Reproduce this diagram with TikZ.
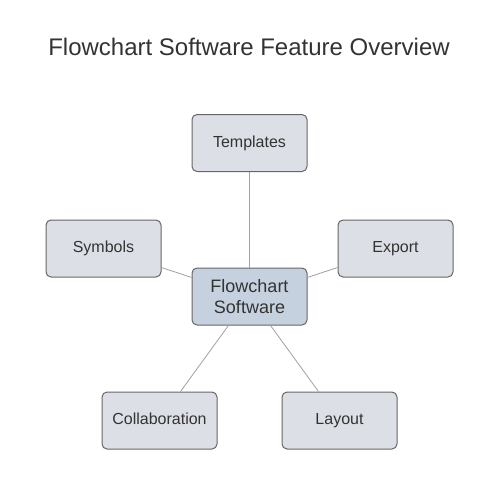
\documentclass[tikz,border=0pt]{standalone}
\usepackage{fontspec}
\setmainfont{Liberation Sans}
\usepackage{tikz}

\definecolor{boxfill}{HTML}{DCDFE6}
\definecolor{hubfill}{HTML}{C6D1E0}
\definecolor{boxline}{HTML}{666666}
\definecolor{linkline}{HTML}{A0A0A0}
\definecolor{txt}{HTML}{333333}

\tikzset{
  box/.style={draw=boxline, line width=1pt, rounded corners=5pt,
    minimum width=115pt, minimum height=57pt, inner sep=0pt, text=txt},
  feature/.style={box, fill=boxfill, text height=11.5pt, text depth=3.5pt,
    font=\fontsize{16pt}{19pt}\selectfont},
  hub/.style={box, fill=hubfill, align=center,
    font=\fontsize{18pt}{21pt}\selectfont},
  link/.style={draw=linkline, line width=0.8pt}
}

\begin{document}
\begin{tikzpicture}[x=1pt, y=-1pt]
        \useasboundingbox (0,0) rectangle (501,493);
        \node[text=txt, font=\fontsize{24pt}{28pt}\selectfont] (title) at (249,47) {Flowchart Software Feature Overview};

        \node [hub] (hub) at (249.5,296.5) {Flowchart\\Software};
        \node [feature] (templates) at (249.5,143) {Templates};
        \node [feature] (symbols) at (103.5,248.5) {Symbols};
        \node [feature] (export) at (395.5,248.5) {Export};
        \node [feature] (collab) at (159.5,420.5) {Collaboration};
        \node [feature] (layout) at (339.5,420.5) {Layout};

        \draw[link] (hub) -- (templates);
        \draw[link] (hub) -- (symbols);
        \draw[link] (hub) -- (export);
        \draw[link] (hub) -- (collab);
        \draw[link] (hub) -- (layout);
      \end{tikzpicture}
\end{document}
